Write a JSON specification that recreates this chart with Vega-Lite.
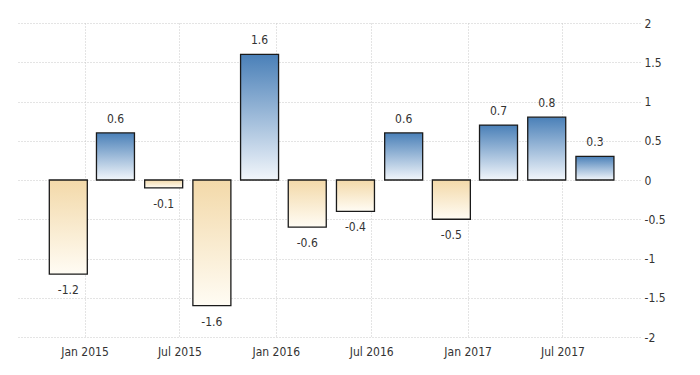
{
  "$schema": "https://vega.github.io/schema/vega-lite/v6.json",
  "width": 622,
  "height": 314,
  "autosize": {"type": "none"},
  "padding": {"left": 18, "top": 23, "right": 60, "bottom": 38},
  "background": "white",
  "config": {
    "view": {"stroke": null},
    "font": "DejaVu Sans Condensed, Liberation Sans Narrow, sans-serif"
  },
  "data": {
    "values": [
      {"date": "2014-12-01", "v": -1.2},
      {"date": "2015-03-01", "v": 0.6},
      {"date": "2015-06-01", "v": -0.1},
      {"date": "2015-09-01", "v": -1.6},
      {"date": "2015-12-01", "v": 1.6},
      {"date": "2016-03-01", "v": -0.6},
      {"date": "2016-06-01", "v": -0.4},
      {"date": "2016-09-01", "v": 0.6},
      {"date": "2016-12-01", "v": -0.5},
      {"date": "2017-03-01", "v": 0.7},
      {"date": "2017-06-01", "v": 0.8},
      {"date": "2017-09-01", "v": 0.3}
    ]
  },
  "encoding": {
    "x": {
      "field": "date",
      "type": "temporal",
      "scale": {"domain": ["2014-08-27", "2017-11-26"], "padding": 0},
      "axis": {
        "values": ["2015-01-01", "2015-07-01", "2016-01-01", "2016-07-01", "2017-01-01", "2017-07-01"],
        "format": "%b %Y",
        "title": null,
        "domain": false,
        "ticks": false,
        "labelPadding": 9,
        "labelFontSize": 12,
        "labelColor": "#333333",
        "labelFont": "DejaVu Sans Condensed, Liberation Sans Narrow, sans-serif",
        "grid": true,
        "gridColor": "#c8c8c8",
        "gridDash": [1, 2],
        "gridWidth": 1
      }
    },
    "y": {
      "field": "v",
      "type": "quantitative",
      "scale": {"domain": [-2, 2], "nice": false},
      "axis": {
        "orient": "right",
        "values": [-2, -1.5, -1, -0.5, 0, 0.5, 1, 1.5, 2],
        "labelExpr": "'' + datum.value",
        "title": null,
        "domain": false,
        "ticks": false,
        "labelPadding": 4,
        "labelFontSize": 12,
        "labelColor": "#333333",
        "labelFont": "DejaVu Sans Condensed, Liberation Sans Narrow, sans-serif",
        "grid": true,
        "gridColor": "#c8c8c8",
        "gridDash": [1, 2],
        "gridWidth": 1
      }
    }
  },
  "layer": [
    {
      "transform": [{"filter": "datum.v >= 0"}],
      "mark": {
        "type": "bar",
        "width": 38,
        "stroke": "#1a1a1a",
        "strokeWidth": 1.3,
        "color": {
          "gradient": "linear",
          "x1": 0, "y1": 0, "x2": 0, "y2": 1,
          "stops": [
            {"offset": 0, "color": "#4a80b8"},
            {"offset": 1, "color": "#f2f6fb"}
          ]
        }
      }
    },
    {
      "transform": [{"filter": "datum.v < 0"}],
      "mark": {
        "type": "bar",
        "width": 38,
        "stroke": "#1a1a1a",
        "strokeWidth": 1.3,
        "color": {
          "gradient": "linear",
          "x1": 0, "y1": 0, "x2": 0, "y2": 1,
          "stops": [
            {"offset": 0, "color": "#f3d9a9"},
            {"offset": 1, "color": "#fffcf4"}
          ]
        }
      }
    },
    {
      "transform": [{"filter": "datum.v >= 0"}],
      "mark": {"type": "text", "baseline": "bottom", "dy": -7, "fontSize": 12, "color": "#333333"},
      "encoding": {"text": {"field": "v", "type": "nominal"}}
    },
    {
      "transform": [{"filter": "datum.v < 0"}],
      "mark": {"type": "text", "baseline": "top", "dy": 11, "fontSize": 12, "color": "#333333"},
      "encoding": {"text": {"field": "v", "type": "nominal"}}
    }
  ]
}
